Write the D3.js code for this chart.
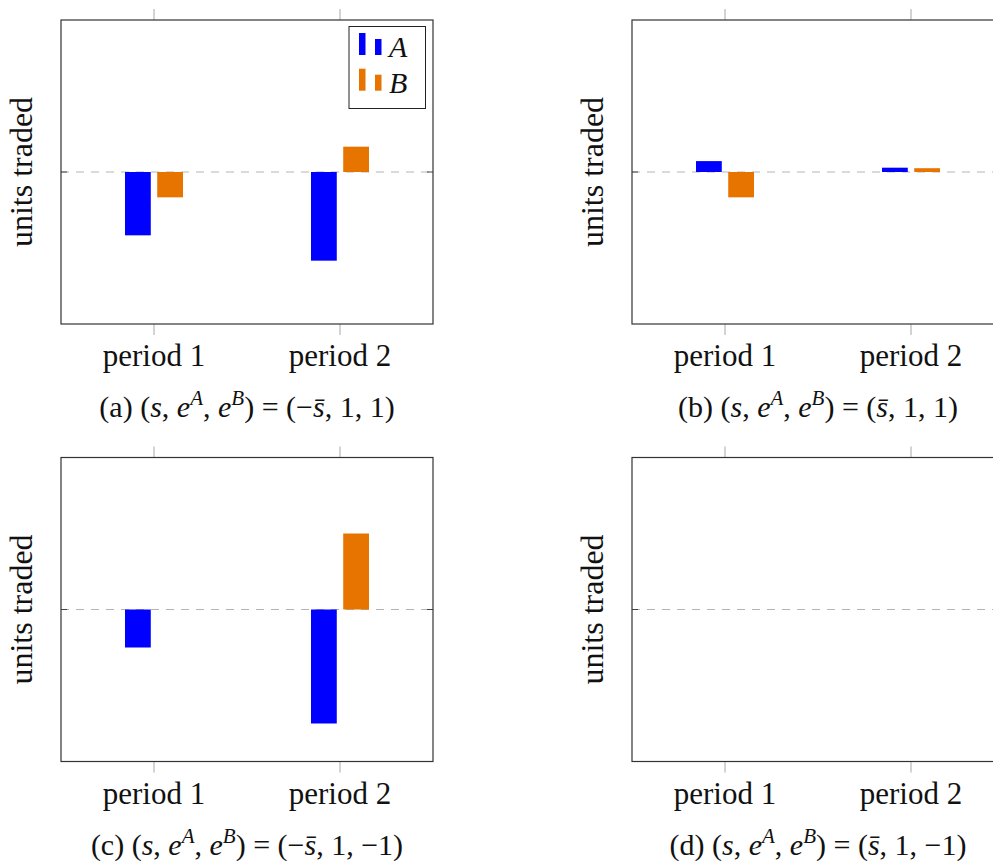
<!DOCTYPE html>
<html>
<head>
<meta charset="utf-8">
<script src="https://cdn.jsdelivr.net/npm/d3@7"></script>
</head>
<body style="margin:0;background:#fff">
<div id="chart"></div>
<script>
const periods = ["period 1", "period 2"];
const seriesNames = ["A", "B"];
const seriesColors = ["#0000ff", "#e87400"];

// one entry per panel: (a), (b), (c), (d)
const valuesA = [[-2.5, -3.5], [0.43, 0.17], [-1.5, -4.5], [0, 0]];
const valuesB = [[-1, 1], [-1, 0.15], [0, 3], [0, 0]];
const panelLetters = ["a", "b", "c", "d"];
const sSign = ["−", "", "−", ""];
const eB = ["1", "1", "−1", "−1"];

const W = 993, H = 861;
const panelW = 372, panelH = 304;
const colX = [61, 632];
const rowY = [20, 457.5];
const FONT = "Liberation Serif";

const svg = d3.select("#chart")
    .append("svg")
    .attr("width", W)
    .attr("height", H)
    .attr("font-family", FONT)
    .style("display", "block");

const x = d3.scalePoint()
    .domain(periods)
    .range([0, panelW])
    .padding(0.5);

const xInner = d3.scaleBand()
    .domain(seriesNames)
    .range([-29, 29])
    .paddingInner(0.2);

const y = d3.scaleLinear()
    .domain([-6, 6])
    .range([panelH, 0]);

panelLetters.forEach((letter, i) => {
    const px = colX[i % 2], py = rowY[Math.floor(i / 2)];
    const g = svg.append("g").attr("transform", `translate(${px},${py})`);

    const data = [];
    periods.forEach((p, j) => {
        data.push({ period: p, series: "A", value: valuesA[i][j] });
        data.push({ period: p, series: "B", value: valuesB[i][j] });
    });

    // x ticks, outside the frame on top and bottom
    g.selectAll("line.xtop")
        .data(periods)
        .join("line")
        .attr("class", "xtop")
        .attr("x1", d => x(d)).attr("x2", d => x(d))
        .attr("y1", -11).attr("y2", 0)
        .attr("stroke", "#a8a8a8");
    g.selectAll("line.xbot")
        .data(periods)
        .join("line")
        .attr("class", "xbot")
        .attr("x1", d => x(d)).attr("x2", d => x(d))
        .attr("y1", panelH).attr("y2", panelH + 11)
        .attr("stroke", "#a8a8a8");
    g.selectAll("text.xlab")
        .data(periods)
        .join("text")
        .attr("class", "xlab")
        .attr("x", d => x(d))
        .attr("y", panelH + 42)
        .attr("text-anchor", "middle")
        .attr("font-family", FONT)
        .attr("font-size", 31)
        .attr("fill", "#111")
        .text(d => d);

    // zero line
    g.append("line")
        .attr("x1", 0).attr("x2", panelW)
        .attr("y1", y(0)).attr("y2", y(0))
        .attr("stroke", "#b4b4b4")
        .attr("stroke-width", 1)
        .attr("stroke-dasharray", "8,7");

    // y ticks at zero (inside)
    g.selectAll("line.ytick")
        .data([[0, 6], [panelW - 6, panelW]])
        .join("line")
        .attr("class", "ytick")
        .attr("x1", d => d[0]).attr("x2", d => d[1])
        .attr("y1", y(0)).attr("y2", y(0))
        .attr("stroke", "#444")
        .attr("stroke-width", 1);

    // bars
    g.selectAll("rect.bar")
        .data(data.filter(d => d.value !== 0))
        .join("rect")
        .attr("class", "bar")
        .attr("x", d => x(d.period) + xInner(d.series))
        .attr("width", xInner.bandwidth())
        .attr("y", d => y(Math.max(0, d.value)))
        .attr("height", d => Math.abs(y(d.value) - y(0)))
        .attr("fill", d => seriesColors[seriesNames.indexOf(d.series)]);

    // frame
    g.append("rect")
        .attr("width", panelW)
        .attr("height", panelH)
        .attr("fill", "none")
        .attr("stroke", "#333")
        .attr("stroke-width", 1.2);

    // y label
    g.append("text")
        .attr("transform", `translate(-29,${panelH / 2}) rotate(-90)`)
        .attr("text-anchor", "middle")
        .attr("font-family", FONT)
        .attr("font-size", 32)
        .attr("fill", "#111")
        .text("units traded");

    // caption
    const cap = g.append("text")
        .attr("x", panelW / 2)
        .attr("y", panelH + 93)
        .attr("text-anchor", "middle")
        .attr("font-family", FONT)
        .attr("font-size", 30)
        .attr("fill", "#111");
    const parts = [
        [`(${letter}) (`, false, 0],
        ["s", true, 0],
        [", ", false, 0],
        ["e", true, 0],
        ["A", true, 1],
        [", ", false, -1],
        ["e", true, 0],
        ["B", true, 1],
        [") = (" + sSign[i], false, -1],
        ["s\u0304", true, 0],
        [`, 1, ${eB[i]})`, false, 0]
    ];
    parts.forEach(([t, it, sup]) => {
        const ts = cap.append("tspan").text(t);
        if (it) ts.attr("font-style", "italic");
        if (sup === 1) ts.attr("dy", -12).attr("font-size", 21);
        if (sup === -1) ts.attr("dy", 12);
    });

    // legend on first panel
    if (i === 0) {
        const lg = g.append("g").attr("transform", `translate(${349 - px},${26.5 - py})`);
        lg.append("rect")
            .attr("width", 76.5)
            .attr("height", 82)
            .attr("fill", "#fff")
            .attr("stroke", "#222")
            .attr("stroke-width", 1);
        seriesNames.forEach((s, k) => {
            const base = 28.5 + k * 35.7;
            lg.append("rect").attr("x", 10).attr("y", base - 22).attr("width", 6.5).attr("height", 22)
                .attr("fill", seriesColors[k]);
            lg.append("rect").attr("x", 26).attr("y", base - 16).attr("width", 6.5).attr("height", 16)
                .attr("fill", seriesColors[k]);
            lg.append("text")
                .attr("x", 40)
                .attr("y", base + 2)
                .attr("font-family", FONT)
                .attr("font-size", 30)
                .attr("font-style", "italic")
                .attr("fill", "#111")
                .text(s);
        });
    }
});
</script>
</body>
</html>
